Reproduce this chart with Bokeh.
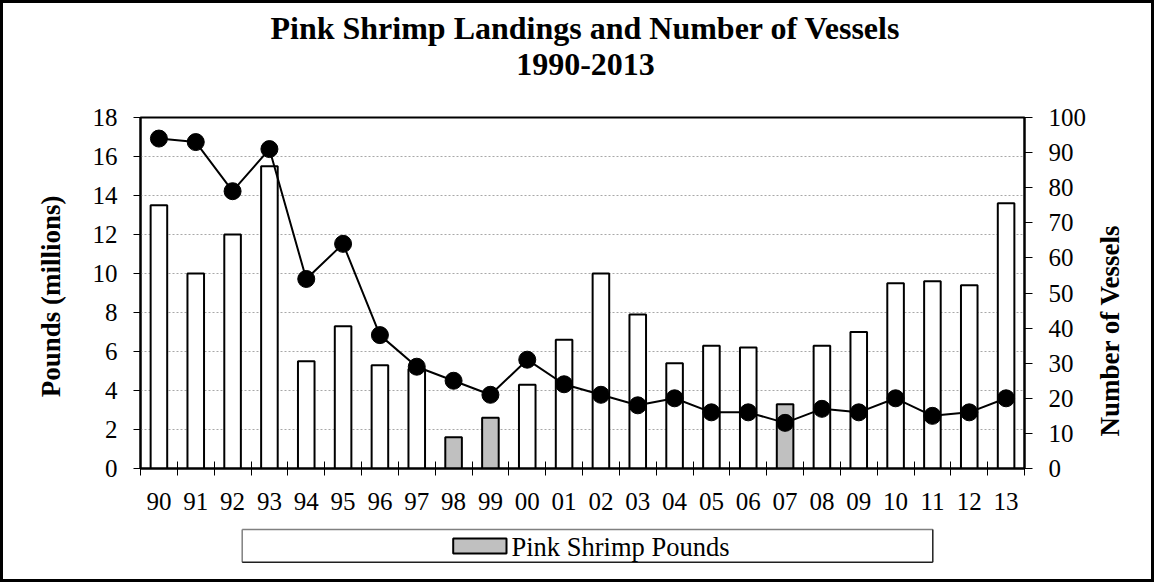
import math
from bokeh.plotting import figure
from bokeh.layouts import column, row
from bokeh.models import Range1d, LinearAxis, FixedTicker, ColumnDataSource
from bokeh.core.properties import value
from bokeh.embed import file_html
from bokeh.resources import INLINE

# ---- data ----
years = ["90", "91", "92", "93", "94", "95", "96", "97", "98", "99", "00", "01",
         "02", "03", "04", "05", "06", "07", "08", "09", "10", "11", "12", "13"]
pounds = [13.5, 10.0, 12.0, 15.5, 5.5, 7.3, 5.3, 5.1, 1.6, 2.6, 4.3, 6.6,
          10.0, 7.9, 5.4, 6.3, 6.2, 3.3, 6.3, 7.0, 9.5, 9.6, 9.4, 13.6]
vessels = [94, 93, 79, 91, 54, 64, 38, 29, 25, 21, 31, 24,
           21, 18, 20, 16, 16, 13, 17, 16, 20, 15, 16, 20]
gray_years = ["98", "99", "07"]
left_ticks = list(range(0, 19, 2))
right_ticks = list(range(0, 101, 10))
title1 = "Pink Shrimp Landings and Number of Vessels"
title2 = "1990-2013"
left_title = "Pounds  (millions)"
right_title = "Number of Vessels"
legend_label = "Pink Shrimp Pounds"

FONT = "Liberation Serif"
B = 3                        # outer border thickness
IW = 1154 - 2 * B            # inner width
H_T, H_M, H_L = 97, 425, 54  # title strip, main chart, legend strip
FL, FR, FT, FB = 137, 1021, 17, 368   # frame position inside main canvas
PW = 1092                    # main chart width; the rest holds the right axis title
RW = IW - PW


def strip(h):
    # frame aligned with the main chart's frame; x in canvas pixels, y downward
    f = figure(width=IW, height=h, output_backend="svg", toolbar_location=None, tools="",
               x_axis_location=None, y_axis_location=None, title=None,
               min_border_left=FL, min_border_right=IW - FR,
               min_border_top=0, min_border_bottom=0,
               x_range=Range1d(FL, FR), y_range=Range1d(h, 0))
    f.background_fill_color = "white"
    f.border_fill_color = "white"
    f.outline_line_color = None
    f.grid.visible = False
    return f


# ---- title strip ----
tf = strip(H_T)
for txt, yb in ((title1, 24.0), (title2, 61.0)):
    tf.text(x=[582], y=[yb], text=[txt], text_font=value(FONT),
            text_font_size=value("32px"), text_font_style=value("bold"),
            text_align=value("center"), text_baseline=value("alphabetic"),
            text_color="black")

# ---- main chart ----
xs = [i + 0.5 for i in range(len(years))]
colors = ["#C0C0C0" if y in gray_years else "white" for y in years]
src = ColumnDataSource(dict(x=xs, pounds=pounds, vessels=vessels, color=colors))

p = figure(width=PW, height=H_M, output_backend="svg", toolbar_location=None, tools="",
           x_range=Range1d(0, len(years)), y_range=Range1d(0, 18), title=None,
           min_border_left=FL, min_border_right=PW - FR, min_border_top=FT,
           min_border_bottom=H_M - FB)
p.extra_y_ranges = {"v": Range1d(0, 100)}
p.background_fill_color = "white"
p.border_fill_color = "white"
p.outline_line_color = "black"
p.outline_line_width = 2

p.vbar(x="x", top="pounds", bottom=0, width=0.45, fill_color="color",
       line_color="black", line_width=2, source=src)
p.line(x="x", y="vessels", y_range_name="v", line_color="black", line_width=2, source=src)
p.scatter(x="x", y="vessels", y_range_name="v", size=17, fill_color="black",
          line_color="black", source=src)

p.xgrid.visible = False
p.ygrid.ticker = FixedTicker(ticks=left_ticks[1:-1])
p.ygrid.grid_line_color = "#a8a8a8"
p.ygrid.grid_line_dash = "2 2"
p.ygrid.grid_line_width = 1


def style_axis(ax):
    ax.axis_line_width = 2
    ax.axis_line_color = "black"
    ax.major_label_text_font = FONT
    ax.major_label_text_font_size = "25px"
    ax.major_label_text_color = "black"
    ax.major_tick_line_color = "black"
    ax.major_tick_line_width = 1
    ax.minor_tick_in = 0
    ax.minor_tick_out = 0
    ax.axis_label_text_font = FONT
    ax.axis_label_text_font_size = "27px"
    ax.axis_label_text_font_style = "bold"
    ax.axis_label_text_color = "black"


yl = p.yaxis[0]
style_axis(yl)
yl.ticker = FixedTicker(ticks=left_ticks)
yl.major_tick_in = 0
yl.major_tick_out = 7
yl.major_label_standoff = 16
yl.axis_label = left_title
yl.axis_label_standoff = 24

yr = LinearAxis(y_range_name="v", ticker=FixedTicker(ticks=right_ticks))
style_axis(yr)
yr.major_tick_in = 0
yr.major_tick_out = 8
yr.major_label_standoff = 16
p.add_layout(yr, "right")

xa = p.xaxis[0]
style_axis(xa)
xa.ticker = FixedTicker(ticks=xs, minor_ticks=list(range(len(years) + 1)))
xa.major_label_overrides = {x: y for x, y in zip(xs, years)}
xa.major_tick_in = 0
xa.major_tick_out = 0
xa.minor_tick_in = 7
xa.minor_tick_out = 7
xa.minor_tick_line_color = "black"
xa.minor_tick_line_width = 1
xa.major_label_standoff = 17

# ---- right axis title strip (same vertical frame as the chart) ----
rs = figure(width=RW, height=H_M, output_backend="svg", toolbar_location=None, tools="",
            x_axis_location=None, y_axis_location=None, title=None,
            min_border_left=0, min_border_right=0, min_border_top=FT,
            min_border_bottom=H_M - FB, x_range=Range1d(0, RW), y_range=Range1d(FB, FT))
rs.background_fill_color = "white"
rs.border_fill_color = "white"
rs.outline_line_color = None
rs.grid.visible = False
rs.text(x=[14], y=[230], text=[right_title], angle=math.pi / 2, text_font=value(FONT),
        text_font_size=value("27px"), text_font_style=value("bold"),
        text_align=value("center"), text_baseline=value("alphabetic"), text_color="black")

# ---- legend strip ----
lf = strip(H_L)
bx0, bx1, by0, by1 = 238.7, 929.3, 4.0, 36.7
lf.segment(x0=[bx0, bx0], y0=[by0, by0], x1=[bx1, bx0], y1=[by0, by1],
           line_color="#808080", line_width=1.5)
lf.segment(x0=[bx0, bx1], y0=[by1, by0], x1=[bx1, bx1], y1=[by1, by1],
           line_color="#202020", line_width=1.5)
lf.quad(left=[449.7], right=[503.0], top=[13.0], bottom=[28.0],
        fill_color="#C0C0C0", line_color="black", line_width=2)
lf.text(x=[508], y=[21.0], text=[legend_label], text_font=value(FONT),
        text_font_size=value("26.5px"), text_align=value("left"),
        text_baseline=value("alphabetic"), text_color="black")

root = column(tf, row(p, rs), lf,
              styles={"border": f"{B}px solid black", "box-sizing": "content-box"})

open("out.html", "w").write(file_html(root, INLINE))
